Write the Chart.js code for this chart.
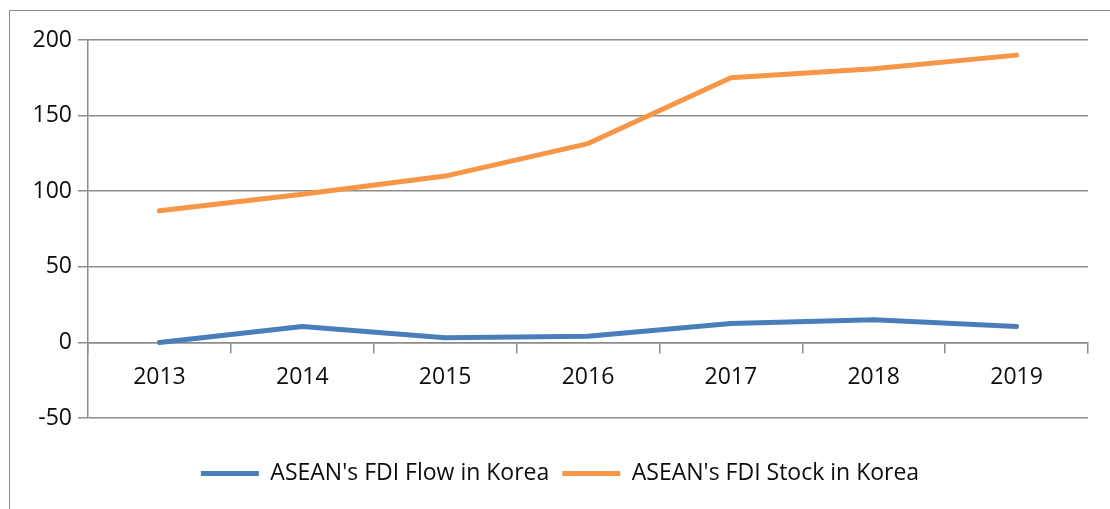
<!DOCTYPE html>
<html>
<head>
<meta charset="utf-8">
<script src="https://cdn.jsdelivr.net/npm/chart.js@4.4.0/dist/chart.umd.min.js"></script>
<style>
  html, body { margin: 0; padding: 0; background: #fff; overflow: hidden; }
  #wrap { position: relative; width: 1110px; height: 509px; overflow: hidden; }
  #frame { position: absolute; left: 9px; top: 10px; width: 1200px; height: 600px; border: 1px solid #8c8c8c; box-sizing: border-box; }
  #chart { position: absolute; left: 0; top: 0; }
</style>
</head>
<body>
<div id="wrap">
  <div id="frame"></div>
  <canvas id="chart" width="1110" height="509"></canvas>
</div>
<script>
// datos
const years = ["2013", "2014", "2015", "2016", "2017", "2018", "2019"];
const flowValues = [0, 10.5, 3, 4, 12.5, 15, 10.5];
const stockValues = [87, 98, 110, 131.5, 175, 181, 190];
const yMin = -50;
const yMax = 200;
const yStep = 50;

const flowLabel = "ASEAN's FDI Flow in Korea";
const stockLabel = "ASEAN's FDI Stock in Korea";

document.addEventListener("DOMContentLoaded", function () {
  const ctx = document.getElementById("chart").getContext("2d");
  const gridColor = "#8c8c8c";
  const textColor = "#0d0d0d";
  const blue = "#4A7EBB";
  const orange = "#F79646";

  Chart.defaults.font.family = "'Open Sans', sans-serif";
  Chart.defaults.font.size = 23;
  Chart.defaults.color = textColor;

  new Chart(ctx, {
    type: "line",
    data: {
      labels: years,
      datasets: [
        {
          label: flowLabel,
          data: flowValues,
          borderColor: blue,
          backgroundColor: blue,
          borderWidth: 5,
          pointRadius: 0,
          tension: 0,
          borderCapStyle: "round",
          borderJoinStyle: "round",
        },
        {
          label: stockLabel,
          data: stockValues,
          borderColor: orange,
          backgroundColor: orange,
          borderWidth: 5,
          pointRadius: 0,
          tension: 0,
          borderCapStyle: "round",
          borderJoinStyle: "round",
        },
      ],
    },
    options: {
      responsive: false,
      animation: false,
      layout: {
        // el relleno izquierdo centra la leyenda como en el original
        padding: { top: 40, left: 32, right: 22, bottom: 14 },
      },
      plugins: {
        tooltip: { enabled: false },
        legend: {
          position: "bottom",
          title: {
            display: true,
            text: "",
            padding: { top: 19, bottom: 0 },
            font: { size: 10 },
          },
          labels: {
            boxWidth: 58,
            boxHeight: 5,
            padding: 13,
            color: textColor,
            font: { size: 23 },
            generateLabels: function (chart) {
              return Chart.defaults.plugins.legend.labels
                .generateLabels(chart)
                .map((item) => ({ ...item, lineWidth: 0, fillStyle: item.strokeStyle }));
            },
          },
        },
      },
      scales: {
        x: {
          type: "category",
          position: { y: 0 },
          offset: true,
          grid: {
            offset: true,
            drawOnChartArea: false,
            tickLength: 10,
            color: gridColor,
            lineWidth: 1.5,
          },
          border: { display: true, color: gridColor, width: 1.5 },
          ticks: { padding: 11, maxRotation: 0, color: textColor },
          afterFit: function (scale) {
            scale.height = 31;
          },
        },
        y: {
          min: yMin,
          max: yMax,
          ticks: { stepSize: yStep, padding: 6, color: textColor },
          grid: { color: gridColor, lineWidth: 1.5, tickLength: 10 },
          border: { display: true, color: gridColor, width: 1.5 },
          afterFit: function (scale) {
            scale.width = 56;
          },
        },
      },
    },
  });
});
</script>
</body>
</html>
